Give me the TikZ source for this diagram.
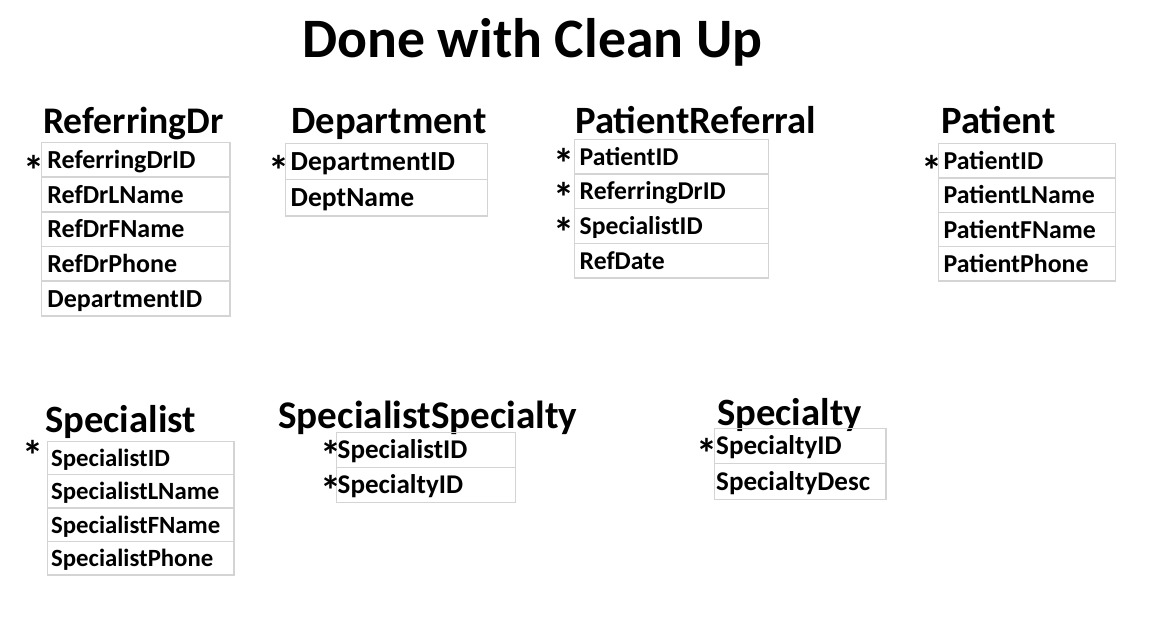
\documentclass[tikz,border=0pt]{standalone}
\usepackage{fontspec}
\setmainfont{Carlito}
\definecolor{cellgray}{RGB}{212,212,212}
\begin{document}
\begin{tikzpicture}[x=0.02cm,y=-0.02cm,
  fld/.style={draw=cellgray, line width=0.8pt, anchor=north west, align=left,
    inner ysep=0pt, text height=9.8pt, text depth=0pt},
  keymark/.style={inner sep=0pt, anchor=base, yshift=-13pt, text height=4pt, text depth=0pt,
    font=\bfseries\fontsize{24}{24}\selectfont},
  tbltitle/.style={anchor=base west, inner sep=0pt, font=\bfseries\fontsize{22}{22}\selectfont}]
%\draw[step=50,help lines] (0,0) grid (1170,616);
\fill[white] (0,0) rectangle (1170,616);
\useasboundingbox (0,0) rectangle (1170,616);
% heading
\node[anchor=base west, inner sep=0pt, font=\bfseries\fontsize{31.7}{32}\selectfont] (heading) at (302,57) {Done with Clean Up};
% top row of tables
  \node[tbltitle, font=\bfseries\fontsize{21.4}{22}\selectfont] (refdr) at (43,133) {ReferringDr};
  \foreach \f [count=\i] in {ReferringDrID,RefDrLName,RefDrFName,RefDrPhone,DepartmentID}
  \node[fld, minimum width=3.77cm, minimum height=0.694cm, text width=3.53cm, inner xsep=0.12cm,
    font=\bfseries\fontsize{14.8}{15}\selectfont] (refdr-\i) at (40.7,141.7+34.7*\i-34.7) {\f};
  \node[keymark] (refdr-key) at (34,162.5) {*};

  \node[tbltitle] (dept) at (291,133) {Department};
  \foreach \f [count=\i] in {DepartmentID,DeptName}
  \node[fld, minimum width=4.05cm, minimum height=0.73cm, text width=3.83cm, inner xsep=0.11cm,
    font=\bfseries\fontsize{15.7}{16}\selectfont] (dept-\i) at (284.5,142.5+36.5*\i-36.5) {\f};
  \node[keymark] (dept-key) at (279,163) {*};

  \node[tbltitle] (patref) at (575,133) {PatientReferral};
  \foreach \f [count=\i] in {PatientID,ReferringDrID,SpecialistID,RefDate}
  \node[fld, minimum width=3.89cm, minimum height=0.694cm, text width=3.67cm, inner xsep=0.11cm,
    font=\bfseries\fontsize{14.6}{15}\selectfont] (patref-\i) at (573.5,138.5+34.7*\i-34.7) {\f};
  \foreach \i in {1,2,3}
  \node[keymark] (patref-key\i) at (564,120.5+34.7*\i) {*};

  \node[tbltitle] (patient) at (941,133) {Patient};
  \foreach \f [count=\i] in {PatientID,PatientLName,PatientFName,PatientPhone}
  \node[fld, minimum width=3.55cm, minimum height=0.686cm, text width=3.33cm, inner xsep=0.11cm,
    font=\bfseries\fontsize{14.7}{15}\selectfont] (patient-\i) at (937.5,143+34.3*\i-34.3) {\f};
  \node[keymark] (patient-key) at (931.5,163) {*};
% bottom row of tables
  \node[tbltitle] (spec) at (45,432) {Specialist};
  \foreach \f [count=\i] in {SpecialistID,SpecialistLName,SpecialistFName,SpecialistPhone}
  \node[fld, minimum width=3.74cm, minimum height=0.668cm, text width=3.58cm, inner xsep=0.08cm,
    font=\bfseries\fontsize{14.1}{15}\selectfont] (spec-\i) at (46.5,440.5+33.4*\i-33.4) {\f};
  \node[keymark] (spec-key) at (32.5,448) {*};

  \node[tbltitle, font=\bfseries\fontsize{22.3}{23}\selectfont] (specspec) at (278,428) {SpecialistSpecialty};
  \foreach \f [count=\i] in {SpecialistID,SpecialtyID}
  \node[fld, minimum width=3.58cm, minimum height=0.70cm, text width=3.54cm, inner xsep=0.02cm,
    font=\bfseries\fontsize{15.4}{16}\selectfont] (specspec-\i) at (336,432+35*\i-35) {\f};
  \foreach \i in {1,2}
  \node[keymark] (specspec-key\i) at (330.5,413+35*\i) {*};

  \node[tbltitle] (specialty) at (717,425) {Specialty};
  \foreach \f [count=\i] in {SpecialtyID,SpecialtyDesc}
  \node[fld, minimum width=3.44cm, minimum height=0.71cm, text width=3.36cm, inner xsep=0.04cm,
    font=\bfseries\fontsize{15.4}{16}\selectfont] (specialty-\i) at (713.5,427.5+35.5*\i-35.5) {\f};
  \node[keymark] (specialty-key) at (707,446) {*};
\end{tikzpicture}
\end{document}
